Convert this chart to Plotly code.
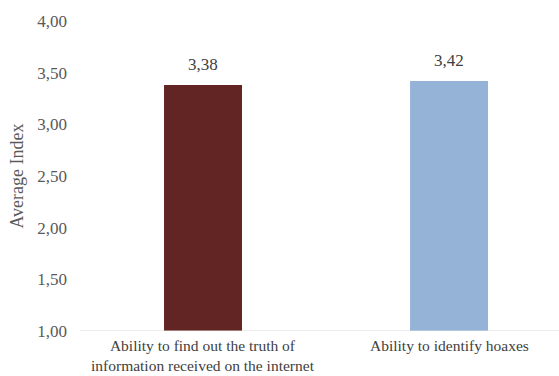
import plotly.graph_objects as go

categories = ["Ability to find out the truth of<br>information received on the internet",
              "Ability to identify hoaxes"]
values = [3.38, 3.42]
colors = ["#632523", "#95B3D7"]
tick_vals = [1.0, 1.5, 2.0, 2.5, 3.0, 3.5, 4.0]
axis_base = 1.0

font_fam = "Liberation Serif"

fig = go.Figure()
fig.add_trace(go.Bar(
    x=list(range(len(categories))), y=[v - axis_base for v in values], base=axis_base,
    marker=dict(color=colors, line=dict(width=0)),
    width=0.317,
))

for i, v in enumerate(values):
    fig.add_annotation(x=i, y=v, text=f"{v:.2f}".replace(".", ","),
                       showarrow=False, yanchor="bottom", yshift=9,
                       font=dict(family=font_fam, size=17, color="#404040"))

# category labels under the baseline
for i, cat in enumerate(categories):
    fig.add_annotation(x=i, xref="x", y=0, yref="paper", text=cat,
                       showarrow=False, yanchor="top", valign="top", yshift=-5,
                       borderpad=0,
                       font=dict(family=font_fam, size=15.5, color="#404040"))

fig.update_layout(
    width=559, height=376,
    margin=dict(l=80, r=0, t=21, b=45, autoexpand=False),
    paper_bgcolor="white", plot_bgcolor="white",
    separators=",.",
    showlegend=False,
    font=dict(family=font_fam, size=17, color="#595959"),
    xaxis=dict(
        range=[-0.5, 1.447], automargin=False,
        showticklabels=False,
        showgrid=False, zeroline=False,
        showline=False, ticks="",
    ),
    yaxis=dict(
        range=[1.0, 4.0], automargin=False,
        tickmode="array", tickvals=tick_vals,
        tickformat=".2f",
        showgrid=False, zeroline=False, showline=False,
        ticks="", ticklabelstandoff=12,
        tickfont=dict(family=font_fam, size=17, color="#595959"),
        title=dict(text="Average Index", font=dict(family=font_fam, size=18, color="#595959"), standoff=8),
    ),
)
fig.add_shape(type="line", xref="paper", yref="y", x0=0, x1=1, y0=axis_base, y1=axis_base,
              line=dict(color="#D9D9D9", width=1))
fig.write_html("out.html")
